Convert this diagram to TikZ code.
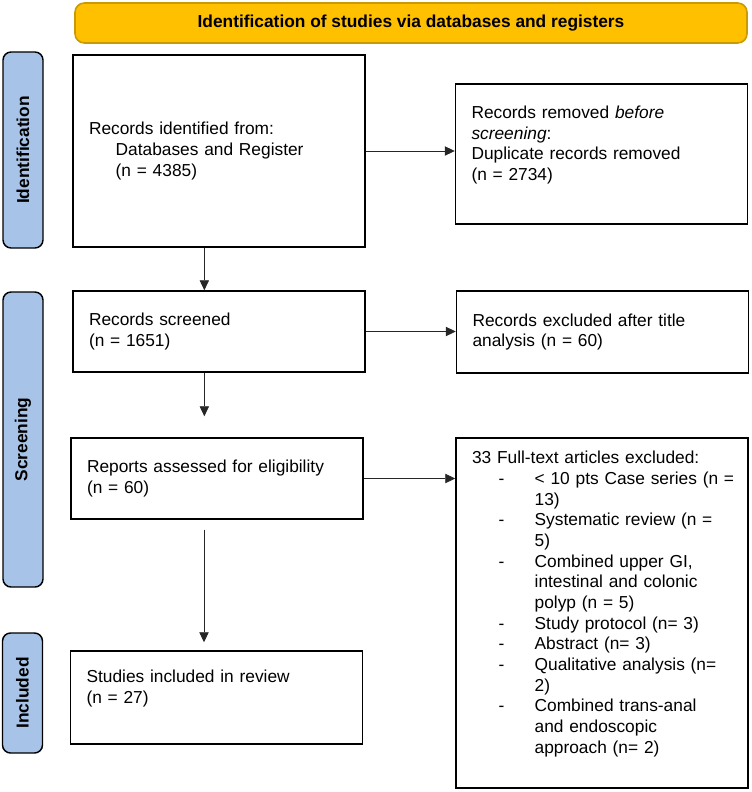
\documentclass[tikz,border=0pt]{standalone}
\usepackage{fontspec}
\setmainfont{Liberation Sans}
\usepackage{xcolor}
\usetikzlibrary{arrows.meta,positioning,calc}
\definecolor{bannerfill}{HTML}{FFC000}
\definecolor{bannerline}{HTML}{C99A06}
\definecolor{phasefill}{HTML}{A7C4E8}
\newcommand{\exdash}{\makebox[47pt][l]{\hspace*{20pt}-}}
\newcommand{\exind}{\hspace*{47pt}}
\newcommand{\padbottom}{\rule[-16pt]{0pt}{16pt}}

\begin{document}
\begin{tikzpicture}[x=0.75pt,y=-0.75pt,
    box/.style={draw, line width=1.1pt, rectangle, align=left, inner xsep=12pt, text width=195pt, font=\fontsize{13}{15.5}\selectfont},
    phase/.style={draw, line width=1.1pt, rounded corners=6pt, fill=phasefill, minimum height=30pt, rotate=90, font=\bfseries\fontsize{13}{15.5}\selectfont},
    arr/.style={-{Triangle[length=7.5pt,width=7pt]}, line width=0.6pt, black!85}]
    \useasboundingbox (0,0) rectangle (751,792);

    \node[draw=bannerline, fill=bannerfill, line width=1.2pt, rounded corners=7pt, minimum width=504pt, minimum height=30pt, font=\bfseries\fontsize{13}{15.5}\selectfont] (banner) at (411,23) {Identification of studies via databases and registers};

    \node[phase, minimum width=147pt] (phid) at (23,150) {Identification};
    \node[phase, minimum width=221.25pt] (phscr) at (23,439.5) {Screening};
    \node[phase, minimum width=90pt] (phinc) at (22.5,693) {Included};

    \node[box, minimum height=144pt] (ident) at (219,151) {Records identified from:\\ \hspace*{20pt}Databases and Register\\ \hspace*{20pt}(n = 4385)};
    \node[box, minimum height=105pt] (removed) at (601.5,154) {Records removed \textit{before}\\ \textit{screening}:\\ Duplicate records removed\\ (n = 2734)\padbottom};
    \node[box, minimum height=60.75pt] (screened) at (219,331.5) {Records screened\\ (n = 1651)};
    \node[box, minimum height=61.5pt] (titleex) at (602.5,332) {Records excluded after title\\ analysis (n = 60)};
    \node[box, minimum height=60.75pt] (reports) at (217,478.5) {Reports assessed for eligibility\\ (n = 60)};
    \node[box, minimum height=262.5pt] (fulltext) at (602,613) {33 Full-text articles excluded:\\
        \mbox{\exdash < 10 pts Case series (n =}\\ \exind 13)\\
        \mbox{\exdash Systematic review (n =}\\ \exind 5)\\
        \exdash Combined upper GI,\\ \exind intestinal and colonic\\ \exind polyp (n = 5)\\
        \exdash Study protocol (n= 3)\\
        \exdash Abstract (n= 3)\\
        \mbox{\exdash Qualitative analysis (n=}\\ \exind 2)\\
        \exdash Combined trans-anal\\ \exind and endoscopic\\ \exind approach (n= 2)\padbottom};
    \node[box, minimum height=69.75pt] (included) at (216.5,697.5) {Studies included in review\\ (n = 27)\padbottom};

    \draw[arr] (ident.east) -- (ident.east -| removed.west);
    \draw[arr] ([xshift=-11pt]ident.south) -- ([xshift=-11pt]ident.south |- screened.north);
    \draw[arr] (screened.east) -- (screened.east -| titleex.west);
    \draw[arr, shorten >=15.75pt] ([xshift=-11pt]screened.south) -- ([xshift=-11pt]screened.south |- reports.north);
    \draw[arr] (reports.east) -- (reports.east -| fulltext.west);
    \draw[arr, shorten <=7.5pt, shorten >=6pt] ([xshift=-9.75pt]reports.south) -- ([xshift=-9.75pt]reports.south |- included.north);
\end{tikzpicture}
\end{document}
